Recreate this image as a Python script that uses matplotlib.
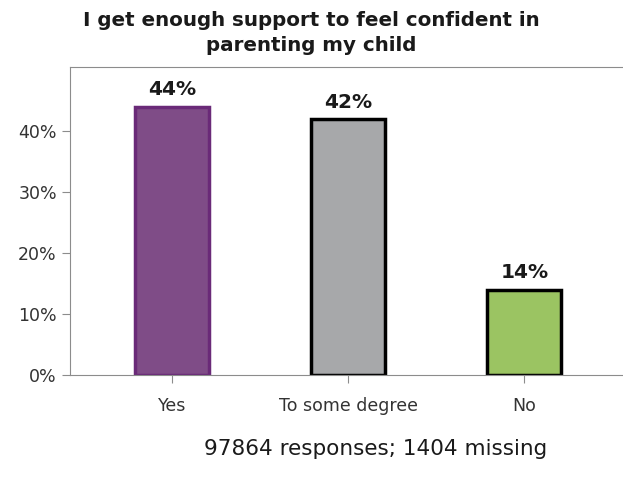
import matplotlib.pyplot as plt
from matplotlib.ticker import PercentFormatter

categories = ["Yes", "To some degree", "No"]
values = [44, 42, 14]
labels = ["44%", "42%", "14%"]
fill_colors = ["#7f4c87", "#a7a8aa", "#9bc462"]
edge_colors = ["#6a2a78", "#000000", "#000000"]

fig = plt.figure(figsize=(6.23, 4.83), dpi=100)
ax = fig.add_axes([0.1124, 0.2236, 0.8876, 0.6377])

x = range(len(categories))
bars = ax.bar(x, values, width=0.42, color=fill_colors, edgecolor=edge_colors, linewidth=2.5)

for b, lab in zip(bars, labels):
    ax.text(b.get_x() + b.get_width() / 2, b.get_height() + 1.2, lab,
            ha="center", va="bottom", fontsize=14.5, fontweight="bold", color="#1a1a1a")

ax.set_xlim(-0.58, 2.56)
ax.set_ylim(0, 50.5)
ax.set_yticks([0, 10, 20, 30, 40])
ax.yaxis.set_major_formatter(PercentFormatter(decimals=0))
ax.set_xticks(list(x))
ax.set_xticklabels(categories)

for side in ["left", "top", "bottom"]:
    ax.spines[side].set_color("#8c8c8c")
ax.spines["right"].set_visible(False)
ax.tick_params(axis="both", colors="#8c8c8c", labelcolor="#333333", labelsize=12.5, length=6)
ax.tick_params(axis="x", pad=10)

fig.text(0.5, 0.978, "I get enough support to feel confident in\nparenting my child",
         ha="center", va="top", fontsize=14.3, fontweight="bold", color="#1a1a1a", linespacing=1.4)
fig.text(376 / 623, 1 - 449 / 483, "97864 responses; 1404 missing",
         ha="center", va="center", fontsize=15.5, color="#1a1a1a")

fig.savefig("out.png", dpi=100)
